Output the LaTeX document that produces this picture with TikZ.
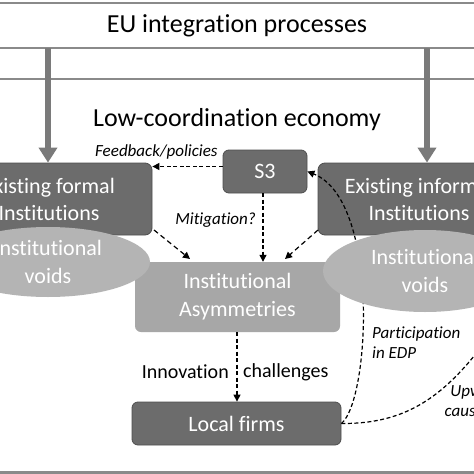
\documentclass[tikz,border=0pt]{standalone}
\usepackage{fontspec}
\setmainfont{Carlito}[Ligatures=NoCommon]
\usetikzlibrary{arrows.meta,calc,shapes.geometric}
\definecolor{dkbox}{HTML}{6C6C6C}
\definecolor{dkedge}{HTML}{4E4E4E}
\definecolor{ltbox}{HTML}{A7A7A7}
\definecolor{ellcol}{HTML}{B4B4B4}
\definecolor{rulecol}{HTML}{8A8A8A}
\definecolor{bigarr}{HTML}{7A7A7A}
\tikzset{
  darkbox/.style={rectangle, rounded corners=7pt, fill=dkbox, draw=dkedge, line width=0.8pt,
    text=white, align=center, inner sep=0pt, font=\fontsize{22}{27}\selectfont},
  lightbox/.style={rectangle, rounded corners=6pt, fill=ltbox, draw=none,
    text=white, align=center, inner sep=0pt, font=\fontsize{22}{28}\selectfont},
  voidell/.style={ellipse, fill=ellcol, draw=none, text=white, align=center, inner sep=0pt,
    font=\fontsize{22}{28}\selectfont},
  dashar/.style={draw=black, line width=1.2pt, dash pattern=on 4pt off 2.5pt,
    -{Triangle[length=7pt,width=7pt]}},
  dashln/.style={draw=black, line width=1.2pt, dash pattern=on 4pt off 2.5pt},
  bigarrow/.style={draw=bigarr, line width=6pt, -{Triangle[length=15pt,width=18pt]}},
  rulel/.style={draw=rulecol, line width=1.2pt},
  lbl/.style={font=\fontsize{17}{20}\selectfont\itshape, inner sep=0pt},
  title/.style={font=\fontsize{26}{30}\selectfont, inner sep=0pt},
  mid/.style={font=\fontsize{20}{24}\selectfont, inner sep=0pt}
}
\begin{document}
\begin{tikzpicture}[x=1pt,y=-1pt]
\useasboundingbox (0,0) rectangle (474,474);
\clip (0,0) rectangle (474,474);
\fill[white] (0,0) rectangle (474,474);

% rules
\coordinate (r1l) at (0,3);   \coordinate (r1r) at (474,3);
\coordinate (r2l) at (0,48);  \coordinate (r2r) at (474,48);
\coordinate (r3l) at (0,79);  \coordinate (r3r) at (474,79);
\draw[rulel] (r1l) -- (r1r);
\draw[rulel] (r2l) -- (r2r);
\draw[rulel] (r3l) -- (r3r);
\fill[rulecol] (0,470.5) rectangle (474,474);

\node[title] (eu) at (237,26) {EU integration processes};
\node[title] (low) at (237,120) {Low-coordination economy};

% boxes
\node[darkbox, minimum width=206pt, minimum height=72pt] (formal) at (49,199) {Existing formal\\Institutions};
\node[darkbox, minimum width=202pt, minimum height=72pt] (informal) at (419,199) {Existing informal\\Institutions};
\node[lightbox, minimum width=205pt, minimum height=70pt] (asym) at (237.5,297) {Institutional\\Asymmetries};
\node[darkbox, rounded corners=6pt, minimum width=84pt, minimum height=43pt] (s3) at (265,171.5) {S3};
\node[darkbox, rounded corners=6pt, minimum width=209pt, minimum height=43pt] (firms) at (236.5,423.5) {Local firms};

% big arrows
\coordinate (eul) at (48,48);
\coordinate (eur) at (427,48);
\draw[bigarrow] (eul) -- (eul |- formal.north);
\draw[bigarrow] (eur) -- (eur |- informal.north);

% curve under the ellipses
\draw[dashar] (firms.east) .. controls (370,400) and (380,200) .. (s3.east);

% ellipses
\node[voidell, minimum width=204pt, minimum height=70pt] (lvoid) at (48,262) {Institutional\\voids};
\node[voidell, minimum width=204pt, minimum height=82pt] (rvoid) at (425,271) {Institutional\\voids};

% dashed arrows
\draw[dashar] ([yshift=5pt]s3.west) -- ([yshift=5pt]s3.west -| formal.east);
\coordinate (s3b) at (263,193);
\draw[dashar] (s3b) -- (s3b |- asym.north);
\coordinate (fo) at (154,230);
\coordinate (fa) at (190,259);
\draw[dashar, dash pattern=on 5pt off 3.5pt] (fo) -- (fa);
\coordinate (io) at (318,230);
\coordinate (ia) at (285,259);
\draw[dashar, dash pattern=on 5pt off 3.5pt] (io) -- (ia);
\coordinate (ab) at (237,332);
\draw[dashar] (ab) -- (ab |- firms.north);
\coordinate (upend) at (490,335);
\draw[dashln] (firms.east) .. controls (405,424) and (445,398) .. (upend);

% labels
\node[lbl, anchor=west] (fb) at (95,152) {Feedback/policies};
\node[lbl, anchor=east] (mit) at (256,220) {Mitigation?};
\node[mid, anchor=east] (inn) at (229,372) {Innovation};
\node[mid, anchor=west] (cha) at (243,372) {challenges};
\node[lbl, anchor=north west, align=left] (part) at (372,327) {Participation\\in EDP};
\node[lbl, anchor=north, align=center] (upg) at (478,384) {Upward\\causation};
\end{tikzpicture}
\end{document}
